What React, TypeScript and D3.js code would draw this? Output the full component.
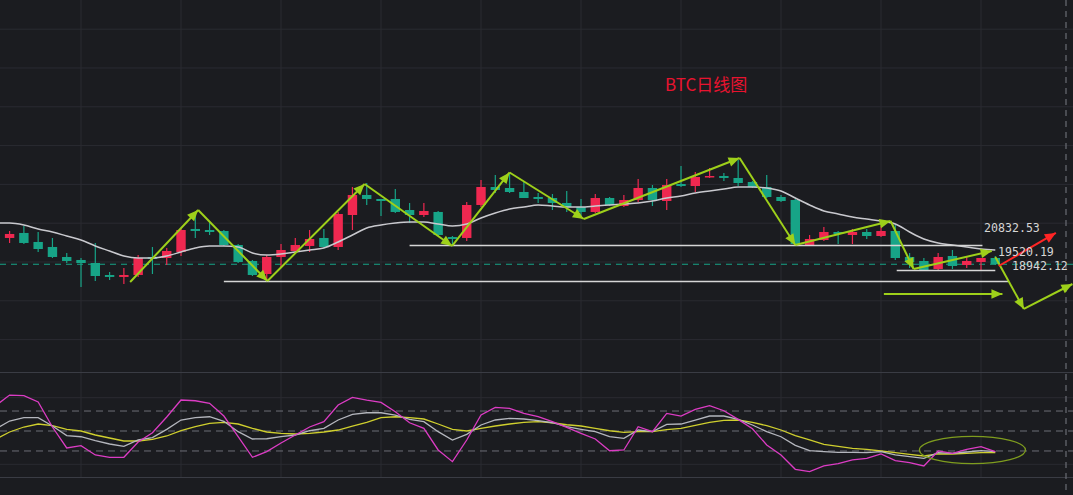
import React from 'react';
import * as d3 from 'd3';

const W = 1073;
const H = 495;

// Daily BTC candles
const opens = [19567,19619,19748,19516,19387,19129,19052,18974,18665,18614,
  18665,19129,19103,19258,19851,19825,19799,19438,19026,18691,
  19129,19284,19413,19619,19387,20211,20727,20624,20624,20340,
  20211,20289,19644,19619,20469,20933,20907,20804,20675,20649,
  20521,20418,20289,20649,20443,20598,20907,20572,21010,20958,
  21191,21216,21165,21062,20933,20675,20598,19438,19567,19773,
  19696,19773,19670,19799,19129,19026,18820,19155,18923,19000,
  19103];
const closes = [19670,19722,19490,19335,19129,19026,18974,18639,18614,18665,
  19103,19078,19284,19825,19799,19773,19438,19000,18665,19129,
  19309,19438,19593,19387,20237,20727,20624,20572,20289,20211,
  20314,19696,19593,20469,20933,20856,20804,20649,20624,20521,
  20418,20289,20649,20469,20598,20907,20598,20984,20958,21191,
  21216,21165,21036,20933,20675,20572,19464,19593,19773,19722,
  19773,19670,19799,19103,19000,18794,19129,18897,19026,19103,
  18942];
const highs = [19748,19799,19928,19773,19619,19232,19103,19490,18742,18845,
  19181,19387,19361,19876,20289,20031,19825,19464,19052,19181,
  19464,19619,19825,19851,20289,20933,21036,20624,20882,20521,
  20521,20314,19670,20546,21113,21242,21294,21062,20778,20752,
  20830,20624,20752,20675,20727,21139,20984,21139,21474,21320,
  21423,21294,21629,21088,21242,20727,20624,19696,19902,19799,
  19851,19851,19928,19954,19232,19103,19232,19309,19155,19103,
  19155];
const lows = [19490,19490,19464,19258,19103,18974,18356,18511,18536,18433,
  18614,18691,18923,19155,19619,19696,19413,18974,18639,18485,
  18871,19232,19258,19361,19309,19825,20469,20186,20263,20005,
  20160,19670,19438,19541,20417,20778,20778,20649,20521,20340,
  20289,20134,20263,20443,20417,20546,20443,20340,20933,20804,
  21165,21088,20958,20907,20649,20546,19438,19413,19541,19464,
  19464,19593,19644,19052,18845,18768,18768,18820,18845,18768,
  18923];

// Moving average line
const maValues = [20005,20005,19954,19851,19773,19670,19567,19413,19284,19155,
  19103,19103,19155,19258,19361,19413,19413,19387,19232,19181,
  19206,19258,19309,19361,19516,19696,19877,19954,20005,20031,
  20031,19979,19928,19979,20134,20263,20366,20418,20469,20443,
  20418,20418,20443,20469,20495,20521,20572,20649,20701,20778,
  20830,20881,20933,20933,20907,20830,20649,20469,20315,20237,
  20160,20108,20057,19979,19773,19593,19490,19438,19387,19335,
  19309];

// KDJ indicator
const kValues = [52.5,65,70,70,57.5,43,41.4,35.4,30.5,27,
  36.5,40,52.5,66.5,70,71.4,64.5,49,38,38.4,
  41.4,44,50.4,54,66.5,75,77.4,77.4,74,67.5,
  64,49,36.5,45,59,66.5,69,68,65.7,62.4,
  56.4,52.5,49,41.4,39,51.5,49,60,60.5,66.5,
  72.5,72.5,67.5,59,49,41.4,28.5,20.4,19,18,
  18,17.4,19,14,11.4,9,17.4,16.5,18.5,20.4,
  19];
const dValues = [37.5,48.5,56,60.5,58,52.5,50,44,39.5,35,
  35,37.5,42.5,50.4,56.4,61.5,63,60.5,54,48.5,
  46.5,45.5,46.5,48.5,51.5,57.5,63,70,71.4,70,
  68,60.5,52.5,50,54,57.5,60.5,63,64,62.4,
  59.4,57.5,54,50.4,48,49,49,52,54,58.5,
  63,66,66.5,63,58,51.5,43,36.5,30,27,
  24,22.5,20,17.4,15,12.5,15.5,15.5,16.5,17.4,
  17.4];
const jValues = [87.5,104,103,93.5,56,24.5,28,14,10.5,10.5,
  33.5,47.4,71,96.5,95.4,91.5,72.5,41.4,10.5,19,
  32,44,56,64,89,100.5,96.5,93,79,62.4,
  54,21.5,4,36.5,74,85.5,84,76.5,71.7,64,
  55.5,46.5,38,20.4,21.5,56.4,49,76.5,72.5,82.5,
  88,80.4,67.5,53.4,29,14,-7.5,-11,-2.5,1,
  6.5,9,15.5,5.4,2.4,-2.5,20,16.5,22.5,26.4,
  19];
const kdjLevels = [80, 50, 20];

// Annotations: [index, price]
const supportLines: [number, number, number][] = [
  [29.0, 69.1, 19425],
  [16.0, 70.9, 18498],
  [63.1, 70.0, 18781],
];
const trendArrows: [number, number, number, number][] = [
  [9.44, 18485, 14.2, 20340],
  [14.2, 20340, 19.05, 18511],
  [19.05, 18511, 25.85, 21010],
  [25.85, 21010, 31.98, 19413],
  [31.98, 19413, 36.0, 21307],
  [36.0, 21307, 41.2, 20108],
  [41.2, 20108, 52.1, 21680],
  [52.1, 21680, 56.0, 19438],
  [56.0, 19438, 62.67, 20057],
  [62.67, 20057, 64.28, 18820],
  [64.28, 18820, 69.75, 19284],
  [70.0, 19130, 72.0, 17789],
  [72.0, 17789, 75.4, 18433],
  [62.2, 18176, 70.5, 18176],
];
const upArrow: [number, number, number, number] = [70.24, 18897, 74.24, 19748];
const priceLabels = ['20832.53', '19520.19', '18942.12'];
const title = 'BTC日线图';

const UP = '#ef2850';
const DOWN = '#17a487';
const ARROW = '#9ed01a';

function arrowHead(x1: number, y1: number, x2: number, y2: number, len = 11, hw = 4.8) {
  const a = Math.atan2(y2 - y1, x2 - x1);
  const bx = x2 - len * Math.cos(a);
  const by = y2 - len * Math.sin(a);
  const px = -Math.sin(a) * hw;
  const py = Math.cos(a) * hw;
  return `M${x2},${y2}L${bx + px},${by + py}L${bx - px},${by - py}Z`;
}

export default function App() {
  const x = d3.scaleLinear().domain([0, 70]).range([-4.7, 995.3]);
  const y = d3.scaleLinear().domain([16165, 25752]).range([372, 0]);
  const yi = d3.scaleLinear().domain([0, 100]).range([464.3, 397.7]);

  const priceTicks = y.ticks(10);
  const vGrid = d3.range(6, 70, 7);

  const maLine = d3.line<number>().x((_, i) => x(i)).y((d) => y(d)).curve(d3.curveMonotoneX)(maValues) || '';
  const kLine = d3.line<number>().x((_, i) => x(i)).y((d) => yi(d))(kValues) || '';
  const dLine = d3.line<number>().x((_, i) => x(i)).y((d) => yi(d))(dValues) || '';
  const jLine = d3.line<number>().x((_, i) => x(i)).y((d) => yi(d))(jValues) || '';

  const bw = 9.4;

  return (
    <svg width={W} height={H} style={{ position: 'absolute', left: 0, top: 0, display: 'block' }}>
      <rect x={0} y={0} width={W} height={H} fill="#1b1c20" />
      <defs>
        <clipPath id="mainClip"><rect x={0} y={0} width={W} height={372} /></clipPath>
        <clipPath id="indClip"><rect x={0} y={373} width={W} height={104} /></clipPath>
      </defs>
      {/* grid */}
      {priceTicks.map((t) => (
        <line key={'h' + t} x1={0} x2={W} y1={y(t)} y2={y(t)} stroke="#2a2b31" strokeWidth={1} />
      ))}
      {vGrid.map((g) => (
        <line key={'v' + g} x1={x(g)} x2={x(g)} y1={0} y2={477} stroke="#2a2b31" strokeWidth={1} />
      ))}
      <line x1={0} x2={W} y1={372.5} y2={372.5} stroke="#3a3c44" strokeWidth={1} />
      <line x1={0} x2={W} y1={477.5} y2={477.5} stroke="#3a3c44" strokeWidth={1} />
      <line x1={0} x2={W} y1={yi(100)} y2={yi(100)} stroke="#2a2b31" strokeWidth={1} />
      <line x1={0} x2={W} y1={yi(0)} y2={yi(0)} stroke="#2a2b31" strokeWidth={1} />
      {kdjLevels.map((l) => (
        <line key={'l' + l} x1={0} x2={W} y1={yi(l)} y2={yi(l)} stroke="#6c6e76" strokeWidth={1} strokeDasharray="7,5" />
      ))}
      <line x1={1066} x2={1066} y1={0} y2={H} stroke="#6a6c74" strokeWidth={1.2} strokeDasharray="6,5" />

      <g clipPath="url(#mainClip)">
        {/* current price line */}
        <line x1={0} x2={W} y1={y(closes[closes.length - 1])} y2={y(closes[closes.length - 1])} stroke={DOWN} strokeWidth={1.2} strokeDasharray="6,5" />
        {/* candles */}
        {opens.map((o, i) => {
          const c = closes[i];
          const up = c >= o;
          const col = up ? UP : DOWN;
          const top = y(Math.max(o, c));
          const bot = y(Math.min(o, c));
          return (
            <g key={'c' + i}>
              <line x1={x(i)} x2={x(i)} y1={y(highs[i])} y2={y(lows[i])} stroke={col} strokeWidth={1.2} />
              <rect x={x(i) - bw / 2} y={top} width={bw} height={Math.max(1.5, bot - top)} fill={col} />
            </g>
          );
        })}
        <path d={maLine} fill="none" stroke="#c9c9ce" strokeWidth={1.5} />
        {supportLines.map(([a, b, p], i) => (
          <line key={'s' + i} x1={x(a)} x2={x(b)} y1={y(p)} y2={y(p)} stroke="#d6d6d6" strokeWidth={1.6} />
        ))}
        {trendArrows.map(([a, p1, b, p2], i) => {
          const x1 = x(a), y1 = y(p1), x2 = x(b), y2 = y(p2);
          return (
            <g key={'a' + i}>
              <line x1={x1} y1={y1} x2={x2} y2={y2} stroke={ARROW} strokeWidth={2} />
              <path d={arrowHead(x1, y1, x2, y2)} fill={ARROW} />
            </g>
          );
        })}
        {(() => {
          const [a, p1, b, p2] = upArrow;
          const x1 = x(a), y1 = y(p1), x2 = x(b), y2 = y(p2);
          return (
            <g>
              <line x1={x1} y1={y1} x2={x2} y2={y2} stroke="#ff2525" strokeWidth={2} />
              <path d={arrowHead(x1, y1, x2, y2)} fill="#ff2525" />
            </g>
          );
        })()}
        <text x={984} y={232} fill="#d6d6d6" fontFamily="DejaVu Sans Mono" fontSize={11.6}>{priceLabels[0]}</text>
        <text x={998} y={256} fill="#d6d6d6" fontFamily="DejaVu Sans Mono" fontSize={11.6}>{priceLabels[1]}</text>
        <text x={1012} y={269.5} fill="#d6d6d6" fontFamily="DejaVu Sans Mono" fontSize={11.6}>{priceLabels[2]}</text>
        <text x={665} y={91} fill="#e8132f" fontFamily="'Noto Sans CJK SC', 'Noto Sans', sans-serif" fontSize={17}>{title}</text>
      </g>

      <g clipPath="url(#indClip)">
        <path d={dLine} fill="none" stroke="#cfcf2e" strokeWidth={1.3} />
        <path d={kLine} fill="none" stroke="#b4b6bd" strokeWidth={1.3} />
        <path d={jLine} fill="none" stroke="#dc3cc4" strokeWidth={1.3} />
        <ellipse cx={x(68.4)} cy={yi(21.5)} rx={53} ry={13.7} fill="none" stroke="#7e9c1e" strokeWidth={1.3} />
      </g>
    </svg>
  );
}
